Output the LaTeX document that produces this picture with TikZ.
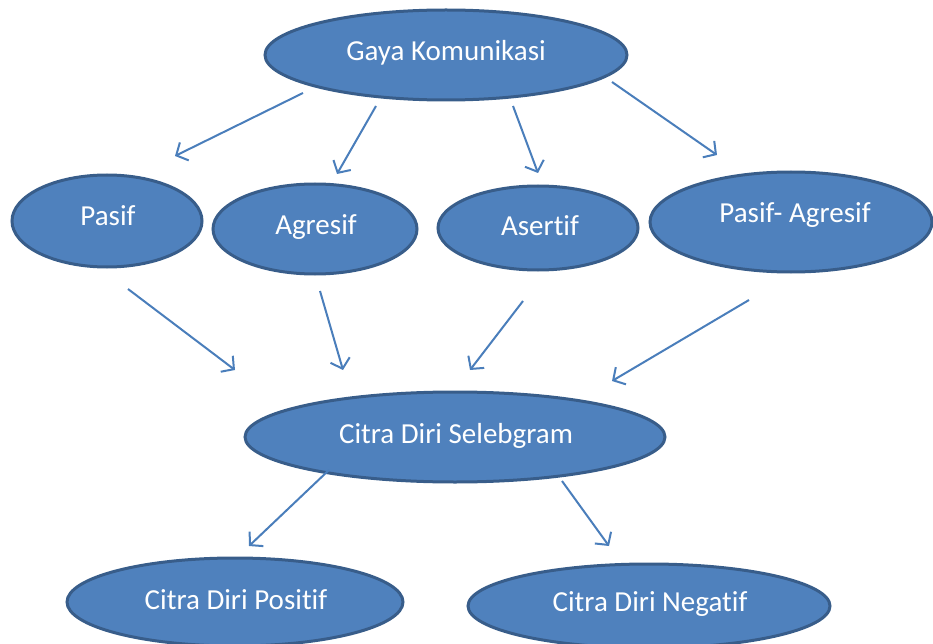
\documentclass[tikz,border=0pt]{standalone}
\usepackage{fontspec}
\setmainfont{Carlito}[Ligatures={NoCommon,NoRequired,NoContextual}]
\usetikzlibrary{shapes.geometric,arrows.meta}
\definecolor{ofill}{HTML}{4F81BD}
\definecolor{oline}{HTML}{385D8A}
\definecolor{oarrow}{HTML}{4A7EBB}
\tikzset{
  oval/.style={ellipse, draw=oline, fill=ofill, line width=3pt, inner sep=0pt},
  lbl/.style={text=white, inner sep=0pt, font=\fontsize{29}{31}\selectfont},
  link/.style={draw=oarrow, line width=2pt, -{Straight Barb[length=9pt,width=20pt,line width=2pt]}}
}
\begin{document}
\begin{tikzpicture}[x=1pt,y=-1pt]
\useasboundingbox (0,0) rectangle (933,644);
\node[oval, minimum width=362pt, minimum height=90pt] (gk) at (446,55) {};
\node[lbl] (gkt) at (446,53) {Gaya Komunikasi};
\node[oval, minimum width=190pt, minimum height=92pt] (ps) at (107,221) {};
\node[lbl] (pst) at (108,216) {Pasif};
\node[oval, minimum width=204pt, minimum height=90pt] (ag) at (315,229) {};
\node[lbl] (agt) at (316,227) {Agresif};
\node[oval, minimum width=200pt, minimum height=84pt] (as) at (538,228) {};
\node[lbl] (ast) at (540,226) {Asertif};
\node[oval, minimum width=282pt, minimum height=100pt] (pa) at (791,222) {};
\node[lbl] (pat) at (795,215) {Pasif- Agresif};
\node[oval, minimum width=420pt, minimum height=90pt] (cs) at (455,437) {};
\node[lbl] (cst) at (456,436) {Citra Diri Selebgram};
\node[oval, minimum width=336pt, minimum height=88pt] (cp) at (235,602) {};
\node[lbl] (cpt) at (236,600) {Citra Diri Positif};
\node[oval, minimum width=362pt, minimum height=84pt] (cn) at (649,606) {};
\node[lbl] (cnt) at (650,604) {Citra Diri Negatif};
\coordinate (a1s) at (303,93);  \coordinate (a1e) at (175,156);
\coordinate (a2s) at (376,106); \coordinate (a2e) at (337,174);
\coordinate (a3s) at (513,106); \coordinate (a3e) at (538,173);
\coordinate (a4s) at (612,82);  \coordinate (a4e) at (717,155);
\coordinate (b1s) at (128,289); \coordinate (b1e) at (235,370);
\coordinate (b2s) at (320,291); \coordinate (b2e) at (343,370);
\coordinate (b3s) at (523,301); \coordinate (b3e) at (470,370);
\coordinate (b4s) at (749,300); \coordinate (b4e) at (612,381);
\coordinate (c1s) at (329,470); \coordinate (c1e) at (249,546);
\coordinate (c2s) at (562,481); \coordinate (c2e) at (609,546);
\draw[link] (a1s) -- (a1e);
\draw[link] (a2s) -- (a2e);
\draw[link] (a3s) -- (a3e);
\draw[link] (a4s) -- (a4e);
\draw[link] (b1s) -- (b1e);
\draw[link] (b2s) -- (b2e);
\draw[link] (b3s) -- (b3e);
\draw[link] (b4s) -- (b4e);
\draw[link] (c1s) -- (c1e);
\draw[link] (c2s) -- (c2e);
\end{tikzpicture}
\end{document}
